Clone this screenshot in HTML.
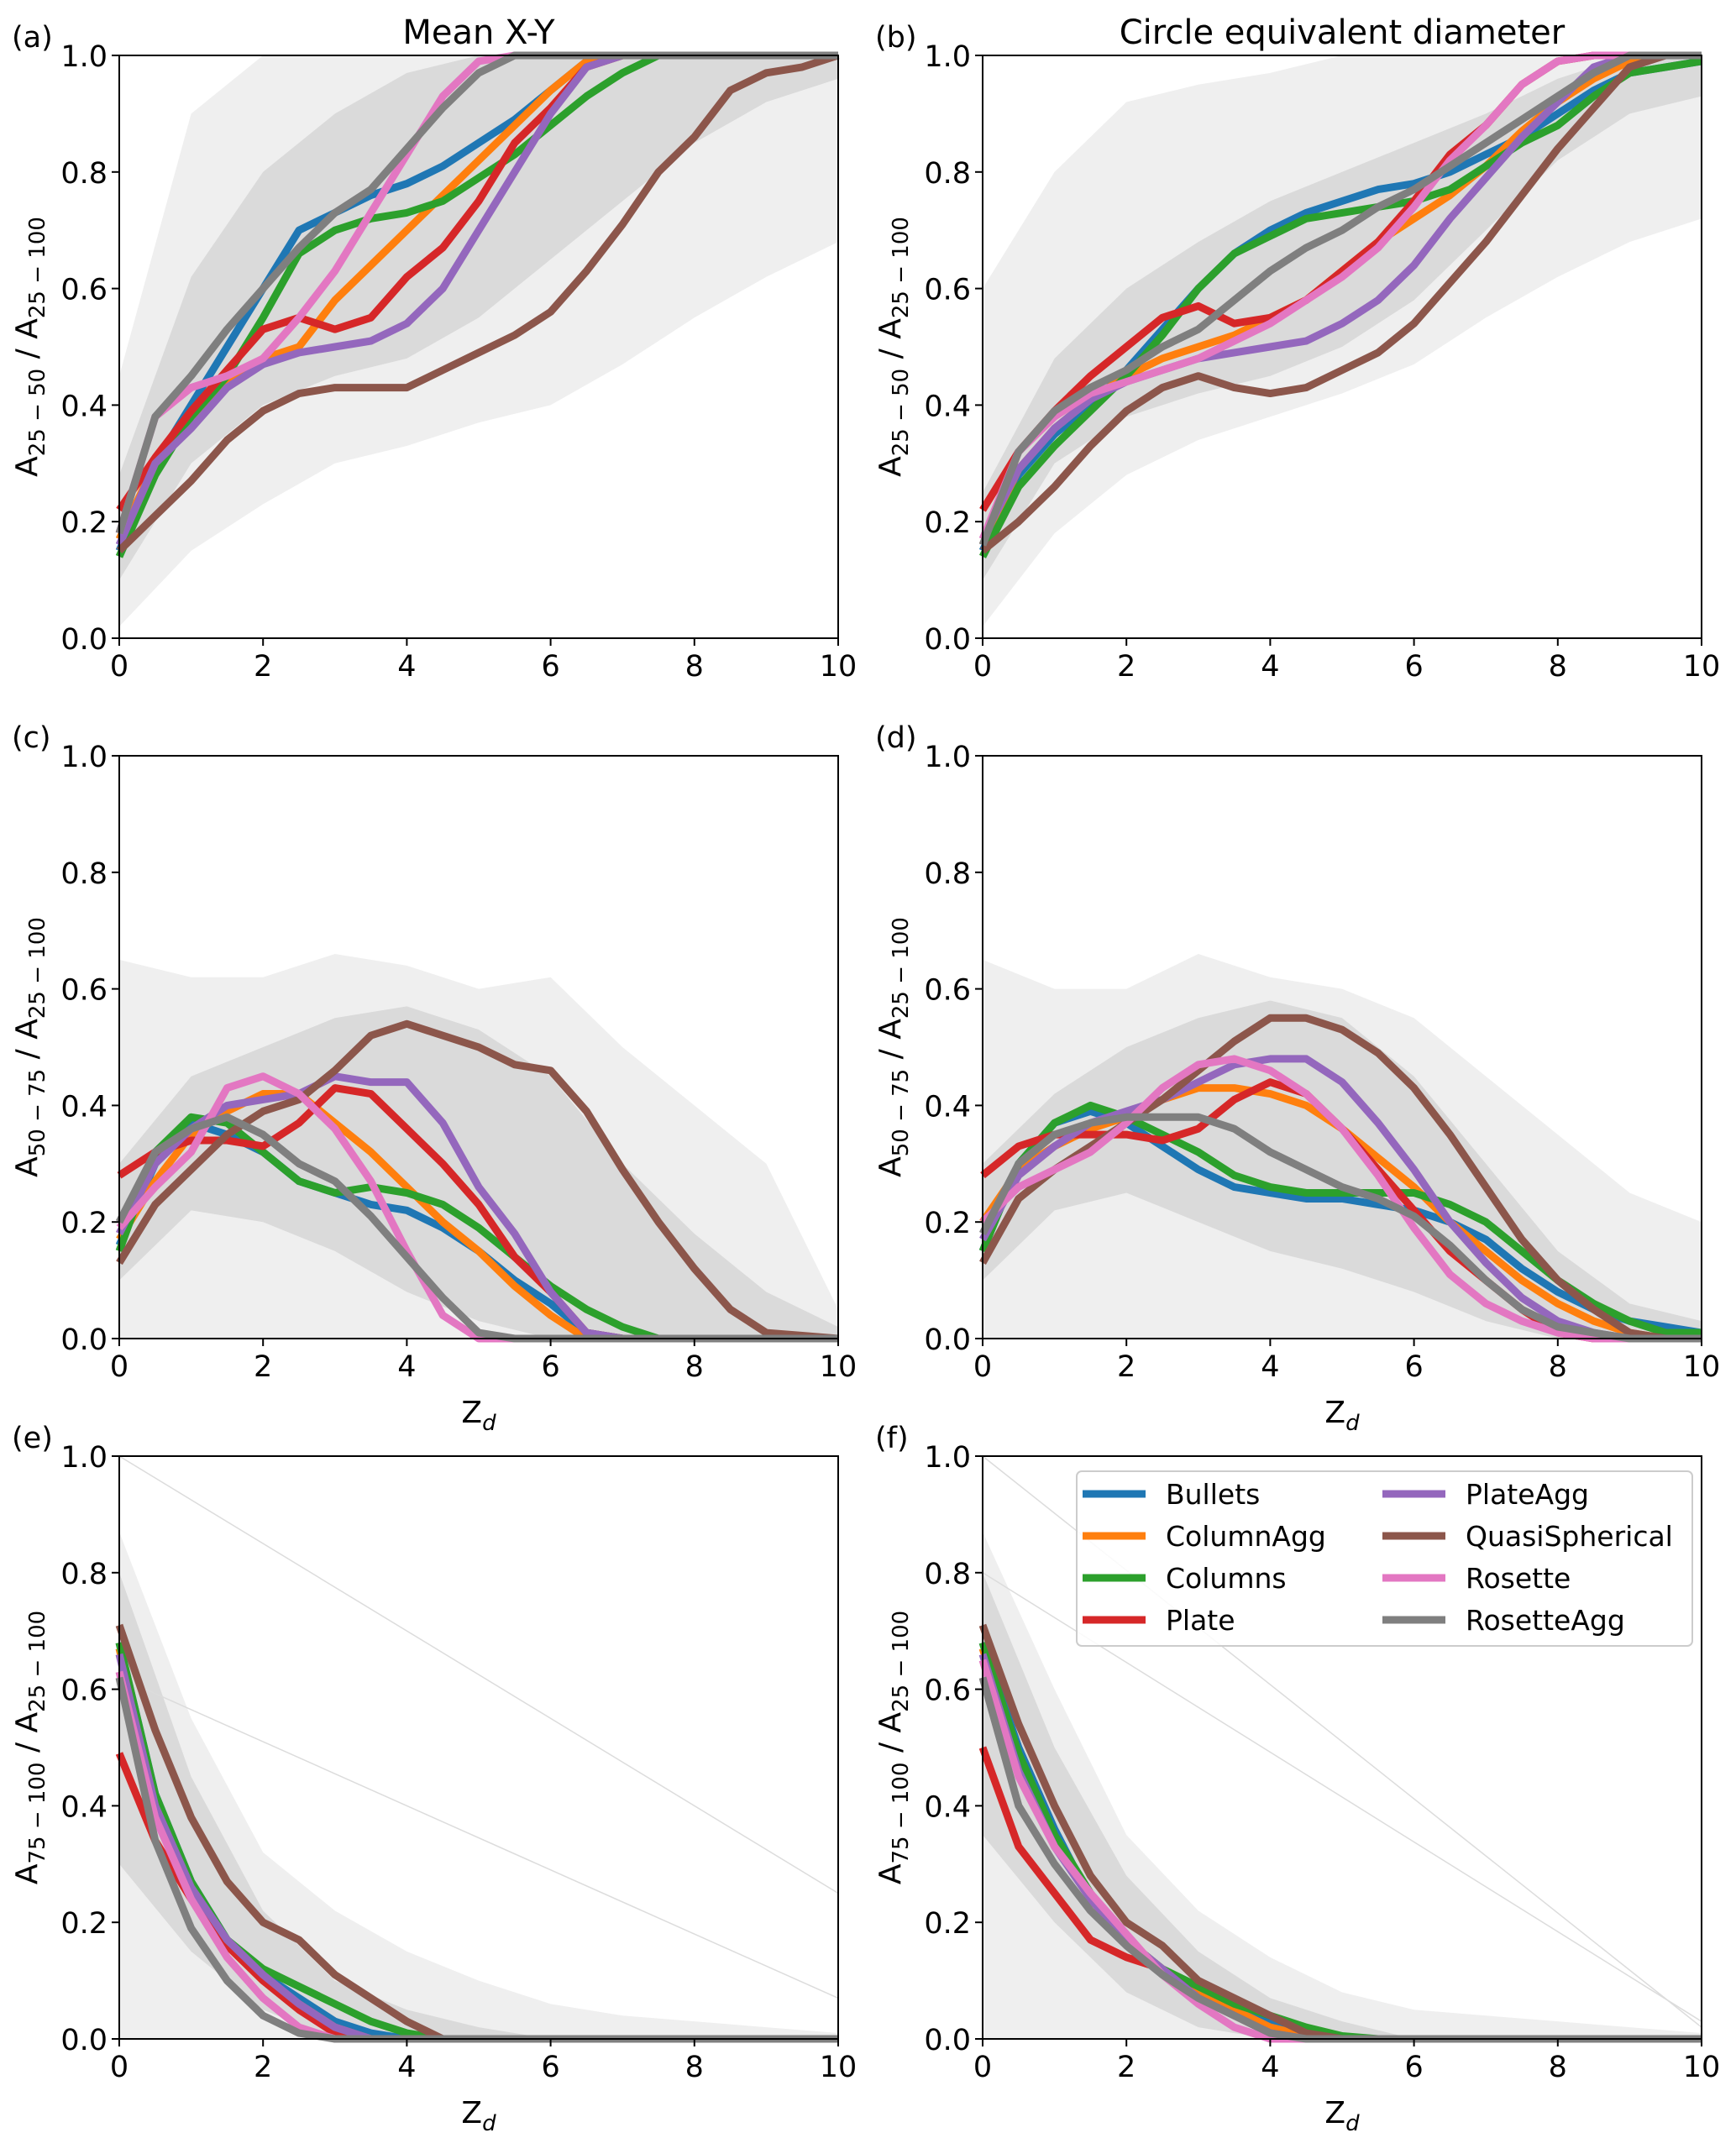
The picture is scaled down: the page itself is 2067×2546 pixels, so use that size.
<!DOCTYPE html>
<html><head><meta charset="utf-8">
<style>
html,body{margin:0;padding:0;background:#fff;}
svg{display:block;font-family:"DejaVu Sans","Liberation Sans",sans-serif;}
</style></head>
<body>
<svg id="fig" width="2067" height="2546" viewBox="0 0 2067 2546" xmlns="http://www.w3.org/2000/svg"></svg>
<script>
const xs = [0,0.5,1,1.5,2,2.5,3,3.5,4,4.5,5,5.5,6,6.5,7,7.5,8,8.5,9,9.5,10];
const bx = [0,1,2,3,4,5,6,7,8,9,10];
const seriesNames = ["Bullets","ColumnAgg","Columns","Plate","PlateAgg","QuasiSpherical","Rosette","RosetteAgg"];
const seriesColors = ["#1f77b4","#ff7f0e","#2ca02c","#d62728","#9467bd","#8c564b","#e377c2","#7f7f7f"];
const xTicks = [0,2,4,6,8,10];
const yTicks = [0,0.2,0.4,0.6,0.8,1.0];

// panel (a)
const aBullets=[0.15,0.3,0.4,0.5,0.6,0.7,0.73,0.76,0.78,0.81,0.85,0.89,0.94,0.99,1,1,1,1,1,1,1];
const aColumnAgg=[0.17,0.3,0.38,0.44,0.48,0.5,0.58,0.64,0.7,0.76,0.82,0.88,0.94,0.99,1,1,1,1,1,1,1];
const aColumns=[0.14,0.28,0.38,0.45,0.55,0.66,0.7,0.72,0.73,0.75,0.79,0.83,0.88,0.93,0.97,1,1,1,1,1,1];
const aPlate=[0.22,0.31,0.39,0.46,0.53,0.55,0.53,0.55,0.62,0.67,0.75,0.85,0.91,0.98,1,1,1,1,1,1,1];
const aPlateAgg=[0.16,0.3,0.36,0.43,0.47,0.49,0.5,0.51,0.54,0.6,0.7,0.8,0.9,0.98,1,1,1,1,1,1,1];
const aQuasi=[0.15,0.21,0.27,0.34,0.39,0.42,0.43,0.43,0.43,0.46,0.49,0.52,0.56,0.63,0.71,0.8,0.86,0.94,0.97,0.98,1.0];
const aRosette=[0.18,0.38,0.43,0.45,0.48,0.55,0.63,0.73,0.83,0.93,0.99,1,1,1,1,1,1,1,1,1,1];
const aRosetteAgg=[0.18,0.38,0.45,0.53,0.6,0.67,0.73,0.77,0.84,0.91,0.97,1,1,1,1,1,1,1,1,1,1];
const aOuterLo=[0.02,0.15,0.23,0.3,0.33,0.37,0.4,0.47,0.55,0.62,0.68];
const aOuterHi=[0.45,0.9,1,1,1,1,1,1,1,1,1];
const aCoreLo=[0.1,0.3,0.4,0.45,0.48,0.55,0.65,0.75,0.85,0.92,0.96];
const aCoreHi=[0.28,0.62,0.8,0.9,0.97,1,1,1,1,1,1];
// panel (b)
const bBullets=[0.15,0.28,0.35,0.4,0.46,0.53,0.6,0.66,0.7,0.73,0.75,0.77,0.78,0.8,0.83,0.86,0.9,0.94,0.97,0.98,0.99];
const bColumnAgg=[0.16,0.29,0.36,0.41,0.45,0.48,0.5,0.52,0.55,0.58,0.63,0.68,0.72,0.76,0.81,0.87,0.92,0.96,0.99,1,1];
const bColumns=[0.14,0.26,0.33,0.39,0.45,0.52,0.6,0.66,0.69,0.72,0.73,0.74,0.75,0.77,0.81,0.85,0.88,0.93,0.97,0.98,0.99];
const bPlate=[0.22,0.32,0.39,0.45,0.5,0.55,0.57,0.54,0.55,0.58,0.63,0.68,0.75,0.83,0.88,0.95,0.99,1,1,1,1];
const bPlateAgg=[0.17,0.29,0.36,0.41,0.44,0.46,0.48,0.49,0.5,0.51,0.54,0.58,0.64,0.72,0.79,0.86,0.92,0.98,1,1,1];
const bQuasi=[0.15,0.2,0.26,0.33,0.39,0.43,0.45,0.43,0.42,0.43,0.46,0.49,0.54,0.61,0.68,0.76,0.84,0.91,0.98,1,1];
const bRosette=[0.17,0.32,0.38,0.42,0.44,0.46,0.48,0.51,0.54,0.58,0.62,0.67,0.74,0.82,0.88,0.95,0.99,1,1,1,1];
const bRosetteAgg=[0.16,0.32,0.39,0.43,0.46,0.5,0.53,0.58,0.63,0.67,0.7,0.74,0.77,0.81,0.85,0.89,0.93,0.97,1,1,1];
const bOuterLo=[0.02,0.18,0.28,0.34,0.38,0.42,0.47,0.55,0.62,0.68,0.72];
const bOuterHi=[0.6,0.8,0.92,0.95,0.97,1,1,1,1,1,1];
const bCoreLo=[0.1,0.3,0.38,0.42,0.45,0.5,0.58,0.7,0.82,0.9,0.93];
const bCoreHi=[0.25,0.48,0.6,0.68,0.75,0.8,0.85,0.9,0.96,1,1];
// panel (c)
const cBullets=[0.16,0.3,0.37,0.35,0.32,0.27,0.25,0.23,0.22,0.19,0.15,0.1,0.06,0.01,0,0,0,0,0,0,0];
const cColumnAgg=[0.17,0.27,0.35,0.39,0.42,0.42,0.37,0.32,0.26,0.2,0.15,0.09,0.04,0,0,0,0,0,0,0,0];
const cColumns=[0.15,0.32,0.38,0.37,0.32,0.27,0.25,0.26,0.25,0.23,0.19,0.14,0.09,0.05,0.02,0,0,0,0,0,0];
const cPlate=[0.28,0.32,0.34,0.34,0.33,0.37,0.43,0.42,0.36,0.3,0.23,0.14,0.08,0.01,0,0,0,0,0,0,0];
const cPlateAgg=[0.18,0.3,0.36,0.4,0.41,0.42,0.45,0.44,0.44,0.37,0.26,0.18,0.08,0.01,0,0,0,0,0,0,0];
const cQuasi=[0.13,0.23,0.29,0.35,0.39,0.41,0.46,0.52,0.54,0.52,0.5,0.47,0.46,0.39,0.29,0.2,0.12,0.05,0.01,0.005,0];
const cRosette=[0.19,0.26,0.32,0.43,0.45,0.42,0.36,0.27,0.15,0.04,0,0,0,0,0,0,0,0,0,0,0];
const cRosetteAgg=[0.2,0.32,0.36,0.38,0.35,0.3,0.27,0.21,0.14,0.07,0.01,0,0,0,0,0,0,0,0,0,0];
const cOuterLo=[0,0,0,0,0,0,0,0,0,0,0];
const cOuterHi=[0.65,0.62,0.62,0.66,0.64,0.6,0.62,0.5,0.4,0.3,0.05];
const cCoreLo=[0.1,0.22,0.2,0.15,0.08,0.03,0,0,0,0,0];
const cCoreHi=[0.3,0.45,0.5,0.55,0.57,0.53,0.45,0.3,0.18,0.08,0.02];
// panel (d)
const dBullets=[0.15,0.3,0.37,0.39,0.37,0.33,0.29,0.26,0.25,0.24,0.24,0.23,0.22,0.2,0.17,0.12,0.08,0.05,0.03,0.02,0.01];
const dColumnAgg=[0.2,0.29,0.33,0.36,0.38,0.41,0.43,0.43,0.42,0.4,0.36,0.31,0.26,0.2,0.15,0.1,0.06,0.03,0.01,0,0];
const dColumns=[0.15,0.3,0.37,0.4,0.38,0.35,0.32,0.28,0.26,0.25,0.25,0.25,0.25,0.23,0.2,0.15,0.1,0.06,0.03,0.01,0.01];
const dPlate=[0.28,0.33,0.35,0.35,0.35,0.34,0.36,0.41,0.44,0.42,0.36,0.29,0.22,0.15,0.1,0.05,0.01,0,0,0,0];
const dPlateAgg=[0.17,0.28,0.33,0.37,0.39,0.41,0.44,0.47,0.48,0.48,0.44,0.37,0.29,0.2,0.13,0.07,0.03,0.01,0,0,0];
const dQuasi=[0.13,0.24,0.29,0.33,0.37,0.41,0.46,0.51,0.55,0.55,0.53,0.49,0.43,0.35,0.26,0.17,0.1,0.05,0.01,0,0];
const dRosette=[0.2,0.26,0.29,0.32,0.37,0.43,0.47,0.48,0.46,0.42,0.36,0.28,0.19,0.11,0.06,0.03,0.01,0,0,0,0];
const dRosetteAgg=[0.18,0.3,0.35,0.37,0.38,0.38,0.38,0.36,0.32,0.29,0.26,0.24,0.21,0.16,0.1,0.05,0.02,0.01,0,0,0];
const dOuterLo=[0,0,0,0,0,0,0,0,0,0,0];
const dOuterHi=[0.65,0.6,0.6,0.66,0.62,0.6,0.55,0.45,0.35,0.25,0.2];
const dCoreLo=[0.1,0.22,0.25,0.2,0.15,0.12,0.08,0.03,0,0,0];
const dCoreHi=[0.3,0.42,0.5,0.55,0.58,0.55,0.45,0.3,0.15,0.06,0.03];
// panel (e)
const eBullets=[0.68,0.42,0.27,0.17,0.11,0.07,0.03,0.01,0,0,0,0,0,0,0,0,0,0,0,0,0];
const eColumnAgg=[0.67,0.41,0.26,0.16,0.1,0.06,0.02,0,0,0,0,0,0,0,0,0,0,0,0,0,0];
const eColumns=[0.68,0.42,0.27,0.17,0.12,0.09,0.06,0.03,0.01,0,0,0,0,0,0,0,0,0,0,0,0];
const ePlate=[0.49,0.34,0.24,0.16,0.1,0.05,0.01,0,0,0,0,0,0,0,0,0,0,0,0,0,0];
const ePlateAgg=[0.66,0.4,0.26,0.17,0.11,0.06,0.02,0,0,0,0,0,0,0,0,0,0,0,0,0,0];
const eQuasi=[0.71,0.53,0.38,0.27,0.2,0.17,0.11,0.07,0.03,0,0,0,0,0,0,0,0,0,0,0,0];
const eRosette=[0.63,0.38,0.24,0.14,0.07,0.02,0,0,0,0,0,0,0,0,0,0,0,0,0,0,0];
const eRosetteAgg=[0.62,0.34,0.19,0.1,0.04,0.01,0,0,0,0,0,0,0,0,0,0,0,0,0,0,0];
const eOuterLo=[0,0,0,0,0,0,0,0,0,0,0];
const eOuterHi=[0.87,0.55,0.32,0.22,0.15,0.1,0.06,0.04,0.03,0.02,0.01];
const eCoreLo=[0.3,0.15,0.05,0,0,0,0,0,0,0,0];
const eCoreHi=[0.8,0.45,0.22,0.1,0.05,0.02,0,0,0,0,0];
// panel (f)
const fBullets=[0.68,0.5,0.36,0.24,0.17,0.12,0.08,0.05,0.03,0.01,0,0,0,0,0,0,0,0,0,0,0];
const fColumnAgg=[0.67,0.48,0.34,0.24,0.17,0.12,0.08,0.05,0.02,0.005,0,0,0,0,0,0,0,0,0,0,0];
const fColumns=[0.68,0.49,0.35,0.25,0.17,0.12,0.09,0.06,0.04,0.02,0.005,0,0,0,0,0,0,0,0,0,0];
const fPlate=[0.5,0.33,0.25,0.17,0.14,0.12,0.07,0.04,0.01,0,0,0,0,0,0,0,0,0,0,0,0];
const fPlateAgg=[0.66,0.46,0.33,0.24,0.17,0.12,0.07,0.04,0.01,0,0,0,0,0,0,0,0,0,0,0,0];
const fQuasi=[0.71,0.54,0.4,0.28,0.2,0.16,0.1,0.07,0.04,0.01,0,0,0,0,0,0,0,0,0,0,0];
const fRosette=[0.65,0.45,0.33,0.25,0.18,0.11,0.06,0.02,0,0,0,0,0,0,0,0,0,0,0,0,0];
const fRosetteAgg=[0.62,0.4,0.3,0.22,0.16,0.11,0.07,0.04,0.01,0,0,0,0,0,0,0,0,0,0,0,0];
const fOuterLo=[0,0,0,0,0,0,0,0,0,0,0];
const fOuterHi=[0.87,0.6,0.35,0.22,0.14,0.08,0.05,0.04,0.03,0.02,0.01];
const fCoreLo=[0.35,0.2,0.08,0.02,0,0,0,0,0,0,0];
const fCoreHi=[0.8,0.5,0.28,0.15,0.07,0.03,0,0,0,0,0];
// straight outlier lines (start y at x=0, end y at x=10)
const eOutStart=[1.0,0.62];
const eOutEnd=[0.25,0.07];
const fOutStart=[1.0,0.8];
const fOutEnd=[0.02,0.03];

const NS="http://www.w3.org/2000/svg";
const svg=document.getElementById('fig');
function mk(tag,attrs,parent){const e=document.createElementNS(NS,tag);for(const k in attrs)e.setAttribute(k,attrs[k]);(parent||svg).appendChild(e);return e;}

const colX=[142,1170], rowY=[66,900,1734], PW=856, PH=694;
const panels=[
 {id:'a',c:0,r:0,s:[aBullets,aColumnAgg,aColumns,aPlate,aPlateAgg,aQuasi,aRosette,aRosetteAgg],ol:aOuterLo,oh:aOuterHi,cl:aCoreLo,ch:aCoreHi,ylab:['25 − 50','25 − 100'],title:'Mean X-Y'},
 {id:'b',c:1,r:0,s:[bBullets,bColumnAgg,bColumns,bPlate,bPlateAgg,bQuasi,bRosette,bRosetteAgg],ol:bOuterLo,oh:bOuterHi,cl:bCoreLo,ch:bCoreHi,ylab:['25 − 50','25 − 100'],title:'Circle equivalent diameter'},
 {id:'c',c:0,r:1,s:[cBullets,cColumnAgg,cColumns,cPlate,cPlateAgg,cQuasi,cRosette,cRosetteAgg],ol:cOuterLo,oh:cOuterHi,cl:cCoreLo,ch:cCoreHi,ylab:['50 − 75','25 − 100'],xlab:true},
 {id:'d',c:1,r:1,s:[dBullets,dColumnAgg,dColumns,dPlate,dPlateAgg,dQuasi,dRosette,dRosetteAgg],ol:dOuterLo,oh:dOuterHi,cl:dCoreLo,ch:dCoreHi,ylab:['50 − 75','25 − 100'],xlab:true},
 {id:'e',c:0,r:2,s:[eBullets,eColumnAgg,eColumns,ePlate,ePlateAgg,eQuasi,eRosette,eRosetteAgg],ol:eOuterLo,oh:eOuterHi,cl:eCoreLo,ch:eCoreHi,ylab:['75 − 100','25 − 100'],xlab:true,os:eOutStart,oe:eOutEnd},
 {id:'f',c:1,r:2,s:[fBullets,fColumnAgg,fColumns,fPlate,fPlateAgg,fQuasi,fRosette,fRosetteAgg],ol:fOuterLo,oh:fOuterHi,cl:fCoreLo,ch:fCoreHi,ylab:['75 − 100','25 − 100'],xlab:true,os:fOutStart,oe:fOutEnd,legend:true}
];

panels.forEach(p=>{
  const L=colX[p.c], T=rowY[p.r];
  const X=v=>L+v/10*PW, Y=v=>T+PH-v*PH;
  const g=mk('g',{});
  
  
  const band=(lo,hi,fill,name)=>{
    let d='M'+bx.map((x,i)=>X(x)+','+Y(hi[i])).join(' L');
    for(let i=bx.length-1;i>=0;i--) d+=' L'+X(bx[i])+','+Y(lo[i]);
    const e=mk('path',{d:d+'Z',fill:fill,stroke:'none'},g);
    
    
  };
  band(p.ol,p.oh,'#efefef','sample-envelope-outer');
  band(p.cl,p.ch,'#dadada','sample-envelope-core');
  if(p.os){p.os.forEach((s,i)=>{
    const e=mk('line',{x1:X(0),y1:Y(s),x2:X(10),y2:Y(p.oe[i]),stroke:'#dcdcdc','stroke-width':1.5},g);
    
    
  });}
  p.s.forEach((arr,k)=>{
    const e=mk('polyline',{points:xs.map((x,i)=>X(x)+','+Y(arr[i])).join(' '),fill:'none',stroke:seriesColors[k],'stroke-width':9,'stroke-linejoin':'round'},g);
    
    
  });
  const fr=mk('rect',{x:L,y:T,width:PW,height:PH,fill:'none',stroke:'#000','stroke-width':2},g);
  
  
  xTicks.forEach(v=>{
    mk('line',{x1:X(v),y1:T+PH,x2:X(v),y2:T+PH+9,stroke:'#000','stroke-width':2},g);
    const t=mk('text',{x:X(v),y:T+PH+45,'text-anchor':'middle','font-size':35},g);
    t.textContent=v;
    
    
  });
  yTicks.forEach(v=>{
    mk('line',{x1:L-9,y1:Y(v),x2:L,y2:Y(v),stroke:'#000','stroke-width':2},g);
    const t=mk('text',{x:L-14,y:Y(v)+13,'text-anchor':'end','font-size':35},g);
    t.textContent=v.toFixed(1);
    
    
  });
  const pl=mk('text',{x:L-128,y:T-10,'font-size':35},g);
  pl.textContent='('+p.id+')';
  
  
  const yl=mk('text',{transform:'translate('+(L-98)+','+(T+PH/2)+') rotate(-90)','text-anchor':'middle','font-size':36},g);
  
  
  yl.innerHTML='A<tspan font-size="26" dy="9">'+p.ylab[0]+'</tspan><tspan dy="-9"> / A</tspan><tspan font-size="26" dy="9">'+p.ylab[1]+'</tspan>';
  if(p.xlab){
    const xl=mk('text',{x:L+PW/2,y:T+PH+100,'text-anchor':'middle','font-size':36},g);
    
    
    xl.innerHTML='Z<tspan font-size="26" dy="9" font-style="italic">d</tspan>';
  }
  if(p.title){
    const tt=mk('text',{x:L+PW/2,y:T-14,'text-anchor':'middle','font-size':40},g);
    tt.textContent=p.title;
    
    
  }
  if(p.legend){
    const lg=mk('g',{},g);
    
    
    mk('rect',{x:1282,y:1752,width:733,height:208,rx:6,fill:'#fff','fill-opacity':0.85,stroke:'#cccccc','stroke-width':2},lg);
    seriesNames.forEach((n,k)=>{
      const cx=k<4?1289:1646, cy=1779+(k%4)*50;
      const en=mk('g',{},lg);
      
      
      mk('line',{x1:cx,y1:cy,x2:cx+75,y2:cy,stroke:seriesColors[k],'stroke-width':9},en);
      const t=mk('text',{x:cx+99,y:cy+12,'font-size':33},en);
      t.textContent=n;
    });
  }
});
</script>
</body></html>
